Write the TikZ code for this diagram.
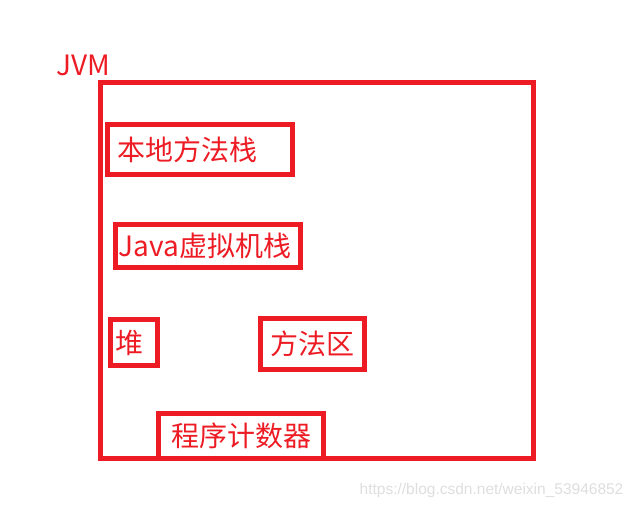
\documentclass[tikz,border=0pt]{standalone}
\usepackage{fontspec}
\newfontfamily\cjkfont{Noto Sans CJK SC}
\newfontfamily\wmfont{Liberation Sans}
\usepackage{tikz}
\definecolor{jvmred}{RGB}{237,28,36}
\definecolor{markgray}{RGB}{222,222,222}

\begin{document}
\begin{tikzpicture}[
  x=1pt,y=-1pt,
  jvmarea/.style={rectangle,draw=jvmred,line width=5pt,inner sep=0pt},
  box/.style={rectangle,draw=jvmred,line width=5pt,text=jvmred,
              font=\cjkfont\fontsize{28}{30}\selectfont,inner sep=0pt},
  lbox/.style={box,align=left},
  title/.style={text=jvmred,font=\cjkfont\fontsize{28}{30}\selectfont,inner sep=0pt},
  wmark/.style={text=markgray,font=\wmfont\fontsize{15.5}{16}\selectfont,inner sep=0pt}
]
\useasboundingbox (0,0) rectangle (639,508);
%% JVM
\node[jvmarea,minimum width=433pt,minimum height=375.5pt] (jvm) at (317,270.25) {};
\node[title] (jvmlabel) at (83.5,65) {JVM};
%% Bereiche
\node[lbox,minimum height=50pt,text width=164.5pt,inner xsep=10pt] (native) at (199.75,149.5) {本地方法栈};
\node[lbox,minimum height=43pt,text width=179pt,inner xsep=3pt] (vmstack) at (208,246) {Java虚拟机栈};
\node[lbox,minimum height=46pt,text width=37pt,inner xsep=5pt] (heap) at (134,342.5) {堆};
\node[box,minimum width=104pt,minimum height=51pt] (method) at (312.5,344) {方法区};
\node[box,minimum width=165pt,minimum height=44.5pt] (pc) at (241,435.75) {程序计数器};
%% Wasserzeichen
\node[wmark,anchor=base west] (wm) at (359.5,494.5) {https://blog.csdn.net/weixin\_53946852};
\end{tikzpicture}
\end{document}
